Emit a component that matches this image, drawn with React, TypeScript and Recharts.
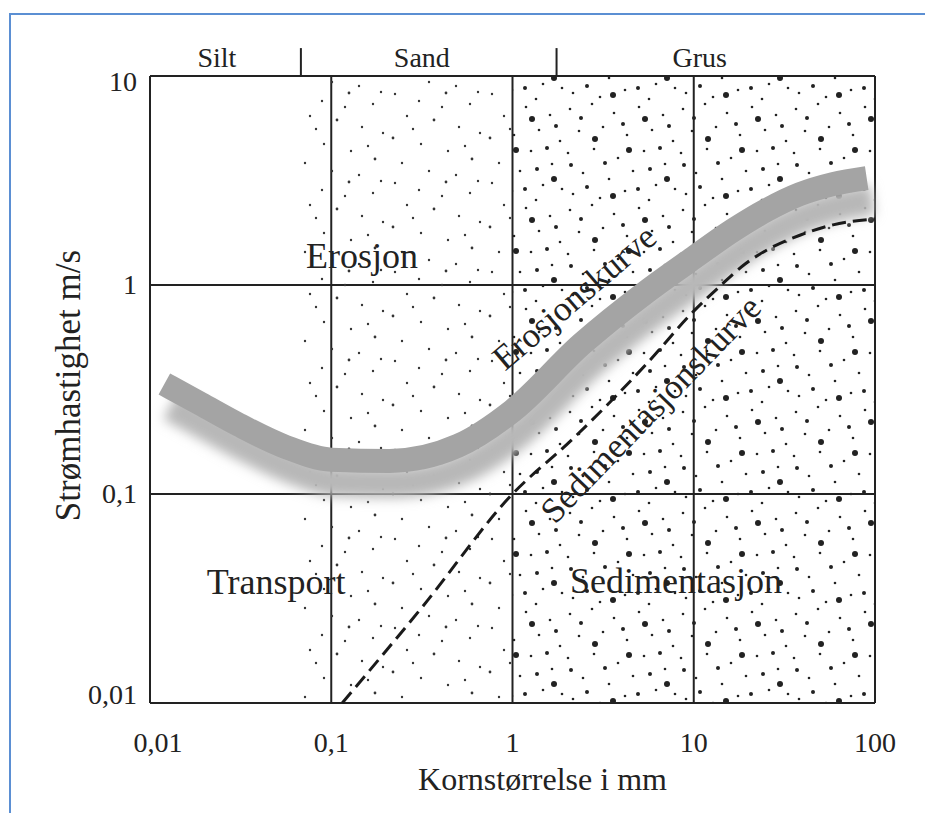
import React from "react";
import {
  LineChart,
  Line,
  XAxis,
  YAxis,
  CartesianGrid,
  ReferenceArea,
  ReferenceLine,
  ReferenceDot,
} from "recharts";

// axes (log, grain size in mm / flow speed in m/s)
const xTicks = [0.01, 0.1, 1, 10, 100];
const xTickLabels = ["0,01", "0,1", "1", "10", "100"];
const yTicks = [0.01, 0.1, 1, 10];
const yTickLabels = ["0,01", "0,1", "1", "10"];

// erosion curve (thick grey band)
const erosionD = [0.012, 0.019, 0.031, 0.056, 0.1, 0.21, 0.5, 1, 2.4, 5.5, 10, 16.5, 25.4, 38.5, 58.6, 90];
const erosionV = [0.336, 0.27, 0.214, 0.168, 0.146, 0.144, 0.17, 0.25, 0.52, 0.93, 1.35, 1.83, 2.29, 2.72, 3.04, 3.25];

// sedimentation curve (dashed)
const sedimentD = [0.115, 0.32, 1, 2.1, 5.5, 10, 14, 19.2, 26.4, 38.5, 58.6, 100];
const sedimentV = [0.01, 0.029, 0.1, 0.18, 0.42, 0.75, 0.99, 1.26, 1.5, 1.73, 1.94, 2.07];

// grain classes above the plot
const grainClasses = ["Silt", "Sand", "Grus"];
const grainClassD = [0.0234, 0.316, 10.8];
const grainClassV = 11.0;
const classBounds = [0.068, 1.75];
const boundTop = 13.6;

// region labels
const regionNames = ["Erosjon", "Transport", "Sedimentasjon"];
const regionD = [0.148, 0.0496, 7.98];
const regionV = [1.2, 0.0333, 0.0336];

// curve labels
const curveNames = ["Erosjonskurve", "Sedimentasjonskurve"];
const curveD = [0.909, 1.716];
const curveV = [0.384, 0.0711];
const curveAngle = [-40.5, -46];

const erosionData = erosionD.map((d, i) => ({ d, v: erosionV[i] }));
const sedimentData = sedimentD.map((d, i) => ({ d, v: sedimentV[i] }));

const FONT = "'Liberation Serif', 'Times New Roman', serif";
const INK = "#222";

// stipple tiles for the sand / gravel fields
const fineDots = [
  [7, 5, 1.2], [31, 12, 1.2], [58, 4, 1.4], [82, 15, 1.2], [19, 27, 1.2], [46, 31, 1.4],
  [71, 38, 1.2], [92, 44, 1.2], [5, 49, 1.4], [33, 55, 1.2], [60, 62, 1.2], [84, 70, 1.4],
  [14, 74, 1.2], [41, 82, 1.2], [68, 86, 1.2], [90, 3, 1.2], [25, 40, 1.2], [54, 18, 1.2],
  [77, 57, 1.2],
];
const coarseDots = [
  [5, 8, 1.3], [27, 3, 1.3], [49, 12, 1.3], [74, 6, 1.3], [98, 14, 1.3], [14, 30, 1.3],
  [38, 26, 1.3], [62, 34, 1.3], [87, 29, 1.3], [108, 40, 1.3], [3, 52, 1.3], [29, 48, 1.3],
  [53, 57, 1.3], [79, 50, 1.3], [100, 63, 1.3], [18, 72, 1.3], [44, 78, 1.3], [68, 70, 1.3],
  [91, 84, 1.3], [8, 93, 1.3], [35, 97, 1.3], [60, 90, 1.3], [84, 99, 1.3], [110, 88, 1.3],
  [16, 17, 2], [58, 23, 2], [95, 47, 2], [40, 62, 2], [73, 88, 2], [22, 86, 2],
  [104, 25, 2], [6, 64, 2], [85, 68, 2],
  [80, 18, 3], [30, 38, 3], [64, 49, 3], [48, 95, 3], [102, 78, 3],
];

const XTick = (props: any) => {
  const { x, y, payload } = props;
  const i = xTicks.indexOf(payload.value);
  return (
    <text x={Math.max(x, 158)} y={y + 49} textAnchor="middle" fontFamily={FONT} fontSize={28} fill={INK}>
      {xTickLabels[i]}
    </text>
  );
};

const YTick = (props: any) => {
  const { x, y, payload } = props;
  const i = yTicks.indexOf(payload.value);
  const c = Math.min(Math.max(y, 82), 695);
  return (
    <text x={x - 13} y={c + 9} textAnchor="end" fontFamily={FONT} fontSize={28} fill={INK}>
      {yTickLabels[i]}
    </text>
  );
};

const textAt = (text: string, size: number, anchor: string, angle = 0) => (p: any) => {
  const vb = p.viewBox || {};
  const x = vb.x + (vb.width || 0) / 2;
  const y = vb.y + (vb.height || 0) / 2;
  return (
    <text
      x={x}
      y={y}
      textAnchor={anchor}
      fontFamily={FONT}
      fontSize={size}
      fill={INK}
      transform={angle ? `rotate(${angle}, ${x}, ${y})` : undefined}
    >
      {text}
    </text>
  );
};

const XTitle = (p: any) => {
  const vb = p.viewBox;
  return (
    <text x={vb.x + vb.width / 2 + 30} y={vb.y + 87} textAnchor="middle" fontFamily={FONT} fontSize={32} fill={INK}>
      Kornstørrelse i mm
    </text>
  );
};

const YTitle = (p: any) => {
  const vb = p.viewBox;
  const x = vb.x + vb.width - 70;
  const y = vb.y + vb.height / 2 - 4;
  return (
    <text x={x} y={y} textAnchor="middle" fontFamily={FONT} fontSize={35} fill={INK} transform={`rotate(-90, ${x}, ${y})`}>
      Strømhastighet m/s
    </text>
  );
};

export default function App() {
  return (
    <div style={{ position: "absolute", left: 0, top: 0, width: 925, height: 813, background: "#fff", overflow: "hidden" }}>
      <style>{`.band-shadow { filter: url(#bandShadow); }`}</style>
      <svg width="0" height="0" style={{ position: "absolute" }}>
        <defs>
          <pattern id="fineDots" width="97" height="89" patternUnits="userSpaceOnUse">
            {fineDots.map(([cx, cy, r], i) => (
              <circle key={i} cx={cx} cy={cy} r={r} fill="#333" />
            ))}
          </pattern>
          <pattern id="coarseDots" width="113" height="101" patternUnits="userSpaceOnUse">
            {coarseDots.map(([cx, cy, r], i) => (
              <circle key={i} cx={cx} cy={cy} r={r} fill="#222" />
            ))}
          </pattern>
          <filter id="bandShadow" x="-20%" y="-40%" width="140%" height="180%">
            <feOffset dx="6" dy="22" />
            <feGaussianBlur stdDeviation="6" />
          </filter>
        </defs>
      </svg>

      {/* blue frame */}
      <div
        style={{
          position: "absolute",
          left: 9,
          top: 13,
          width: 914,
          height: 798,
          borderLeft: "2px solid #5b8fd3",
          borderTop: "2px solid #5b8fd3",
        }}
      />

      <div style={{ position: "absolute", left: 0, top: 0 }}>
        <LineChart width={925} height={813} margin={{ top: 76, right: 50, bottom: 50, left: 90 }}>
          <ReferenceArea x1={classBounds[0]} x2={1} y1={0.01} y2={10} fill="url(#fineDots)" fillOpacity={1} stroke="none" ifOverflow="visible" />
          <ReferenceArea x1={1} x2={100} y1={0.01} y2={10} fill="url(#coarseDots)" fillOpacity={1} stroke="none" ifOverflow="visible" />
          <CartesianGrid stroke={INK} strokeWidth={2} strokeDasharray="" />
          <XAxis
            type="number"
            dataKey="d"
            scale="log"
            domain={[0.01, 100]}
            ticks={xTicks}
            height={60}
            tickSize={0}
            tickMargin={0}
            axisLine={false}
            tickLine={false}
            tick={XTick}
            interval={0}
            label={{ content: XTitle as any }}
          />
          <YAxis
            type="number"
            scale="log"
            domain={[0.01, 10]}
            ticks={yTicks}
            width={60}
            tickSize={0}
            tickMargin={0}
            axisLine={false}
            tickLine={false}
            tick={YTick}
            interval={0}
            label={{ content: YTitle as any }}
          />

          {classBounds.map((b) => (
            <ReferenceLine
              key={b}
              segment={[{ x: b, y: 10 }, { x: b, y: boundTop }]}
              stroke={INK}
              strokeWidth={2}
              ifOverflow="visible"
            />
          ))}

          <Line
            data={erosionData}
            dataKey="v"
            type="monotone"
            stroke="#b8b8b8"
            strokeWidth={30}
            dot={false}
            activeDot={false}
            className="band-shadow"
            isAnimationActive={false}
          />
          <Line
            data={erosionData}
            dataKey="v"
            type="monotone"
            stroke="#a4a4a4"
            strokeWidth={24}
            dot={false}
            activeDot={false}
            isAnimationActive={false}
          />
          <Line
            data={sedimentData}
            dataKey="v"
            type="monotone"
            stroke="#1a1a1a"
            strokeWidth={3}
            strokeDasharray="14 7"
            dot={false}
            activeDot={false}
            isAnimationActive={false}
          />

          {grainClasses.map((t, i) => (
            <ReferenceDot key={t} x={grainClassD[i]} y={grainClassV} r={0} stroke="none" fill="none" ifOverflow="visible" label={{ content: textAt(t, 28, "middle") as any }} />
          ))}
          {regionNames.map((t, i) => (
            <ReferenceDot key={t} x={regionD[i]} y={regionV[i]} r={0} stroke="none" fill="none" ifOverflow="visible" label={{ content: textAt(t, 36, "middle") as any }} />
          ))}
          {curveNames.map((t, i) => (
            <ReferenceDot key={t} x={curveD[i]} y={curveV[i]} r={0} stroke="none" fill="none" ifOverflow="visible" label={{ content: textAt(t, 35, "start", curveAngle[i]) as any }} />
          ))}
        </LineChart>
      </div>
    </div>
  );
}
